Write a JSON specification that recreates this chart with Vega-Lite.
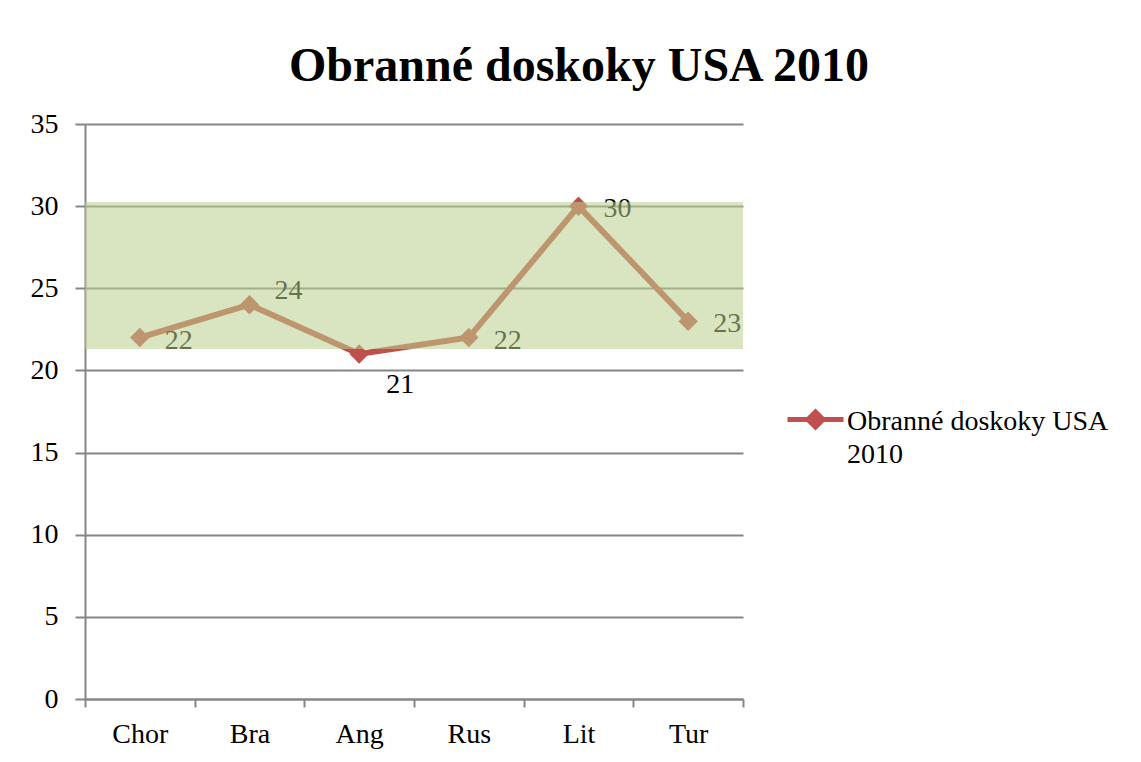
{
  "$schema": "https://vega.github.io/schema/vega-lite/v6.json",
  "autosize": {"type": "none"},
  "width": 658,
  "height": 575,
  "padding": {"left": 85, "top": 124, "right": 398, "bottom": 63},
  "background": "white",
  "config": {
    "font": "Liberation Serif",
    "view": {"stroke": null}
  },
  "title": {
    "text": "Obranné doskoky USA 2010",
    "font": "Liberation Serif",
    "fontSize": 48,
    "fontWeight": "bold",
    "color": "black",
    "anchor": "middle",
    "frame": "group",
    "baseline": "alphabetic",
    "offset": -19,
    "dx": 165
  },
  "data": {
    "values": [
      {"team": "Chor", "value": 22, "series": "Obranné doskoky USA 2010"},
      {"team": "Bra", "value": 24, "series": "Obranné doskoky USA 2010"},
      {"team": "Ang", "value": 21, "series": "Obranné doskoky USA 2010"},
      {"team": "Rus", "value": 22, "series": "Obranné doskoky USA 2010"},
      {"team": "Lit", "value": 30, "series": "Obranné doskoky USA 2010"},
      {"team": "Tur", "value": 23, "series": "Obranné doskoky USA 2010"}
    ]
  },
  "encoding": {
    "x": {
      "field": "team",
      "type": "nominal",
      "sort": null,
      "scale": {"type": "band", "paddingInner": 0, "paddingOuter": 0},
      "axis": {
        "title": null,
        "labelAngle": 0,
        "labelFont": "Liberation Serif",
        "labelFontSize": 28,
        "labelColor": "black",
        "labelPadding": 13,
        "tickSize": 8,
        "tickWidth": 2,
        "tickColor": "#868686",
        "tickBand": "extent",
        "domainColor": "#868686",
        "domainWidth": 2,
        "grid": false
      }
    },
    "y": {
      "field": "value",
      "type": "quantitative",
      "scale": {"domain": [0, 35], "nice": false},
      "axis": {
        "title": null,
        "values": [0, 5, 10, 15, 20, 25, 30, 35],
        "labelFont": "Liberation Serif",
        "labelFontSize": 28,
        "labelColor": "black",
        "labelPadding": 17,
        "tickSize": 10,
        "tickWidth": 2,
        "tickColor": "#868686",
        "domainColor": "#868686",
        "domainWidth": 2,
        "grid": true,
        "gridColor": "#868686",
        "gridWidth": 2
      }
    }
  },
  "layer": [
    {
      "mark": {"type": "line", "strokeWidth": 6},
      "encoding": {
        "color": {
          "field": "series",
          "type": "nominal",
          "scale": {"range": ["#C0504D"]},
          "legend": {
            "title": null,
            "orient": "none",
            "legendX": 700,
            "legendY": 265,
            "padding": 0,
            "symbolType": "M-1,0L1,0M0,-0.27L0.27,0L0,0.27L-0.27,0Z",
            "symbolSize": 3136,
            "symbolStrokeWidth": 5,
            "symbolFillColor": "#C0504D",
            "symbolStrokeColor": "#C0504D",
            "labelFont": "Liberation Serif",
            "labelFontSize": 28,
            "labelColor": "black",
            "labelOffset": 1,
            "labelBaseline": "alphabetic",
            "labelLimit": 400,
            "labelExpr": "['Obranné doskoky USA', '2010']",
            "encode": {
              "labels": {"update": {"dy": {"value": 10}, "lineHeight": {"value": 33}}}
            }
          }
        }
      }
    },
    {
      "mark": {"type": "point", "shape": "diamond", "filled": true, "size": 380, "opacity": 1, "color": "#C0504D"}
    },
    {
      "transform": [{"filter": "datum.team !== 'Bra' && datum.team !== 'Ang'"}],
      "mark": {"type": "text", "align": "left", "baseline": "middle", "dx": 25, "dy": 3, "fontSize": 28, "font": "Liberation Serif", "color": "black"},
      "encoding": {"text": {"field": "value", "type": "quantitative"}}
    },
    {
      "transform": [{"filter": "datum.team === 'Bra'"}],
      "mark": {"type": "text", "align": "left", "baseline": "middle", "dx": 25, "dy": -14, "fontSize": 28, "font": "Liberation Serif", "color": "black"},
      "encoding": {"text": {"field": "value", "type": "quantitative"}}
    },
    {
      "transform": [{"filter": "datum.team === 'Ang'"}],
      "mark": {"type": "text", "align": "left", "baseline": "middle", "dx": 27, "dy": 31, "fontSize": 28, "font": "Liberation Serif", "color": "black"},
      "encoding": {"text": {"field": "value", "type": "quantitative"}}
    },
    {
      "data": {"values": [{"low": 21.3, "high": 30.25}]},
      "mark": {"type": "rect", "color": "#B9D08C", "opacity": 0.55},
      "encoding": {
        "x": null,
        "y": {"field": "low", "type": "quantitative"},
        "y2": {"field": "high"}
      }
    }
  ]
}
